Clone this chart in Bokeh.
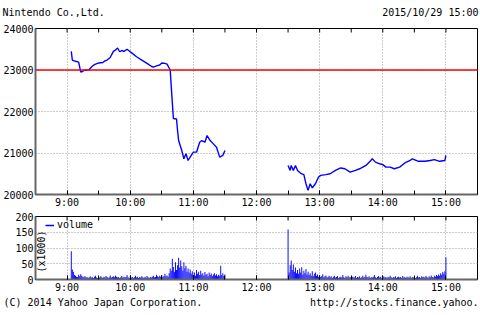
from math import pi, nan
from bokeh.plotting import figure
from bokeh.models import (FixedTicker, Span, Label, Legend, LegendItem,
                          Range1d, ColumnDataSource)
from bokeh.layouts import column
from bokeh.embed import file_html
from bokeh.resources import INLINE

FONT = "DejaVu Sans Mono"
FS = "10px"

# ---------------- data ----------------
title_text = "Nintendo Co.,Ltd."
date_text = "2015/10/29 15:00"
footer_left = "(C) 2014 Yahoo Japan Corporation."
footer_right = "http://stocks.finance.yahoo."

hour_labels = ["9:00", "10:00", "11:00", "12:00", "13:00", "14:00", "15:00"]
price_ticks = [20000, 21000, 22000, 23000, 24000]
volume_ticks = [0, 50, 100, 150, 200]
prev_close = 23000

am_time = ["9:04", "9:05", "9:08", "9:11", "9:13", "9:15", "9:17", "9:19", "9:21", "9:24",
           "9:26", "9:30", "9:34", "9:36", "9:38", "9:41", "9:44", "9:46", "9:48", "9:50",
           "9:52", "9:54", "9:57", "10:00", "10:02", "10:06", "10:11", "10:16", "10:20", "10:22",
           "10:25", "10:28", "10:30", "10:33", "10:35", "10:38", "10:39", "10:40", "10:41", "10:44",
           "10:45", "10:46", "10:49", "10:51", "10:53", "10:55", "10:58", "11:00", "11:03", "11:06",
           "11:08", "11:11", "11:13", "11:16", "11:19", "11:22", "11:25", "11:28", "11:30"]
am_price = [23450, 23240, 23210, 23190, 22950, 22970, 23000, 22990, 23010, 23090,
            23130, 23170, 23180, 23220, 23240, 23300, 23450, 23480, 23530, 23440,
            23470, 23450, 23500, 23440, 23400, 23320, 23240, 23160, 23090, 23070,
            23100, 23120, 23170, 23160, 23140, 23000, 22600, 22220, 21830, 21820,
            21540, 21300, 21060, 20860, 20980, 20820, 20940, 21020, 21020, 21260,
            21300, 21260, 21420, 21300, 21220, 21140, 20900, 20940, 21060]

pm_time = ["12:30", "12:32", "12:33", "12:35", "12:37", "12:39", "12:42", "12:45", "12:47", "12:49",
           "12:51", "12:53", "12:56", "12:59", "13:01", "13:06", "13:10", "13:15", "13:20", "13:24",
           "13:29", "13:34", "13:38", "13:44", "13:48", "13:50", "13:53", "13:57", "14:00", "14:03",
           "14:07", "14:11", "14:16", "14:21", "14:26", "14:28", "14:34", "14:40", "14:45", "14:49",
           "14:54", "14:59", "15:00"]
pm_price = [20700, 20580, 20700, 20580, 20700, 20580, 20510, 20480, 20260, 20100,
            20260, 20160, 20260, 20420, 20460, 20480, 20500, 20580, 20640, 20620,
            20540, 20580, 20620, 20700, 20800, 20860, 20780, 20740, 20720, 20660,
            20660, 20620, 20660, 20760, 20820, 20860, 20800, 20800, 20820, 20840,
            20800, 20820, 20940]

# volume (x1000), one value per minute
am_vol_start = "9:04"
am_volume = [90, 32, 25, 14, 12, 9, 8, 15, 10, 17,
             12, 9, 7, 11, 6, 8, 5, 7, 10, 6,
             7, 5, 9, 12, 6, 5, 8, 6, 10, 7,
             5, 9, 6, 11, 8, 5, 7, 13, 6, 8,
             10, 7, 12, 9, 6, 8, 5, 7, 11, 6,
             9, 6, 8, 14, 7, 5, 10, 6, 8, 5,
             7, 12, 6, 9, 5, 8, 6, 10, 7, 5,
             9, 6, 11, 7, 5, 8, 6, 9, 12, 7,
             8, 15, 10, 7, 12, 9, 14, 8, 11, 18,
             10, 13, 9, 20, 35, 28, 66, 40, 25, 55,
             30, 45, 69, 38, 60, 42, 28, 55, 36, 44,
             25, 35, 22, 32, 18, 26, 15, 22, 12, 30,
             18, 25, 14, 28, 16, 20, 12, 24, 15, 18,
             10, 22, 14, 19, 11, 16, 20, 13, 17, 10,
             15, 12, 44, 14, 20, 11, 16]
pm_vol_start = "12:30"
pm_volume = [159, 22, 45, 60, 30, 48, 25, 38, 20, 30,
             18, 35, 22, 39, 15, 28, 20, 33, 16, 25,
             14, 20, 12, 26, 10, 18, 22, 12, 16, 9,
             14, 8, 11, 17, 7, 10, 13, 6, 9, 12,
             7, 10, 5, 9, 12, 6, 8, 11, 5, 7,
             9, 6, 14, 8, 5, 10, 7, 12, 6, 8,
             5, 9, 7, 6, 11, 5, 8, 6, 10, 5,
             7, 12, 6, 9, 15, 8, 6, 10, 5, 8,
             6, 9, 14, 7, 5, 8, 11, 6, 9, 5,
             7, 10, 6, 8, 5, 9, 6, 12, 7, 5,
             8, 6, 10, 5, 7, 9, 6, 8, 5, 11,
             6, 8, 5, 9, 7, 6, 10, 5, 8, 6,
             9, 5, 7, 12, 6, 8, 5, 10, 7, 9,
             6, 11, 8, 5, 10, 7, 13, 8, 6, 12,
             9, 14, 10, 16, 12, 20, 15, 24, 18, 26,
             71]


def to_min(s):
    h, m = s.split(":")
    return (int(h) - 9) * 60 + int(m)


hour_ticks = [to_min(h) for h in hour_labels]
half_ticks = [t + 30 for t in hour_ticks[:-1]] + [hour_ticks[0] - 30, hour_ticks[-1] + 30]
all_ticks = sorted(hour_ticks + half_ticks)
overrides = {t: l for t, l in zip(hour_ticks, hour_labels)}
XR = (hour_ticks[0] - 30, hour_ticks[-1] + 30)

BLUE = "#0000ff"
GRID = "#999999"
AXIS = "#666666"


def text_strip(height):
    f = figure(width=480, height=height, x_range=Range1d(0, 1), y_range=Range1d(0, 1),
               output_backend="svg", toolbar_location=None,
               x_axis_location=None, y_axis_location=None,
               min_border=0, min_border_left=0, min_border_right=0,
               min_border_top=0, min_border_bottom=0)
    f.frame_align = False
    f.grid.visible = False
    f.outline_line_color = None
    return f


def style_panel(p, yticks):
    p.outline_line_color = "black"
    p.background_fill_color = "white"
    p.border_fill_color = "white"
    xa = p.xaxis[0]
    xa.ticker = FixedTicker(ticks=hour_ticks, minor_ticks=all_ticks)
    xa.major_label_overrides = overrides
    xa.axis_line_color = AXIS
    xa.axis_line_width = 2
    xa.major_tick_in = 4
    xa.major_tick_out = 0
    xa.minor_tick_in = 4
    xa.minor_tick_out = 0
    xa.major_tick_line_color = "black"
    xa.minor_tick_line_color = "black"
    xa.major_label_standoff = 2
    xa.major_label_text_font = FONT
    xa.major_label_text_font_size = FS
    xa.major_label_text_color = "black"
    ya = p.yaxis[0]
    ya.ticker = FixedTicker(ticks=yticks)
    ya.axis_line_color = AXIS
    ya.axis_line_width = 2
    ya.major_tick_in = 0
    ya.major_tick_out = 0
    ya.minor_tick_line_color = None
    ya.major_label_standoff = 2
    ya.major_label_text_font = FONT
    ya.major_label_text_font_size = FS
    ya.major_label_text_color = "black"
    p.xgrid.ticker = FixedTicker(ticks=hour_ticks)
    p.ygrid.ticker = FixedTicker(ticks=yticks[1:-1])
    for g in (p.xgrid[0], p.ygrid[0]):
        g.grid_line_color = GRID
        g.grid_line_dash = "1 2"
        g.grid_line_width = 1
    # small inward ticks on the top border at every half hour
    p.scatter(x=all_ticks, y=[yticks[-1]] * len(all_ticks), marker="dash",
              angle=pi / 2, size=8, line_color="black", line_width=1)


# ---------------- header ----------------
head = text_strip(20)
head.add_layout(Label(x=2, y=8, x_units="screen", y_units="screen", text=title_text,
                      text_font=FONT, text_font_size=FS, text_baseline="middle",
                      text_align="left", text_color="black"))
head.add_layout(Label(x=478, y=8, x_units="screen", y_units="screen", text=date_text,
                      text_font=FONT, text_font_size=FS, text_baseline="middle",
                      text_align="right", text_color="black"))

# ---------------- price panel ----------------
p1 = figure(width=480, height=190, x_range=Range1d(*XR),
            y_range=Range1d(price_ticks[0], price_ticks[-1]),
            output_backend="svg", toolbar_location=None,
            min_border_left=33, min_border_right=3, min_border_top=8, min_border_bottom=16)
style_panel(p1, price_ticks)
p1.add_layout(Span(location=prev_close, dimension="width", line_color="#ff0000", line_width=1.5))
p1.line([to_min(t) for t in am_time], am_price, line_color=BLUE, line_width=1.4)
p1.line([to_min(t) for t in pm_time], pm_price, line_color=BLUE, line_width=1.4)

# ---------------- volume panel ----------------
p2 = figure(width=480, height=85, x_range=Range1d(*XR),
            y_range=Range1d(volume_ticks[0], volume_ticks[-1]),
            output_backend="svg", toolbar_location=None,
            min_border_left=33, min_border_right=3, min_border_top=6, min_border_bottom=16)
style_panel(p2, volume_ticks)
am_x = [to_min(am_vol_start) + i for i in range(len(am_volume))]
pm_x = [to_min(pm_vol_start) + i for i in range(len(pm_volume))]
src = ColumnDataSource(dict(x=am_x + pm_x, top=am_volume + pm_volume))
p2.vbar(x="x", top="top", bottom=0, width=0.9, source=src, fill_color=BLUE, line_color=None)

leg_r = p2.line(x=[nan], y=[nan], line_color=BLUE, line_width=1.5)
legend = Legend(items=[LegendItem(label="volume", renderers=[leg_r])],
                location=(10, 49), padding=0, margin=0, spacing=0,
                glyph_width=9, glyph_height=10, label_height=10, label_standoff=3,
                border_line_alpha=0, background_fill_alpha=0,
                label_text_font=FONT, label_text_font_size=FS, label_text_color="black")
p2.add_layout(legend)

p2.add_layout(Label(x=6, y=28, x_units="screen", y_units="screen", text="(x1000)",
                    angle=pi / 2, text_font=FONT, text_font_size=FS,
                    text_align="center", text_baseline="middle", text_color="black"))

# ---------------- footer ----------------
foot = text_strip(20)
foot.add_layout(Label(x=3, y=13, x_units="screen", y_units="screen", text=footer_left,
                      text_font=FONT, text_font_size=FS, text_align="left",
                      text_baseline="middle", text_color="black"))
foot.add_layout(Label(x=478, y=13, x_units="screen", y_units="screen", text=footer_right,
                      text_font=FONT, text_font_size=FS, text_align="right",
                      text_baseline="middle", text_color="black"))

layout = column(head, p1, p2, foot, spacing=0)
open("out.html", "w").write(file_html(layout, INLINE))
